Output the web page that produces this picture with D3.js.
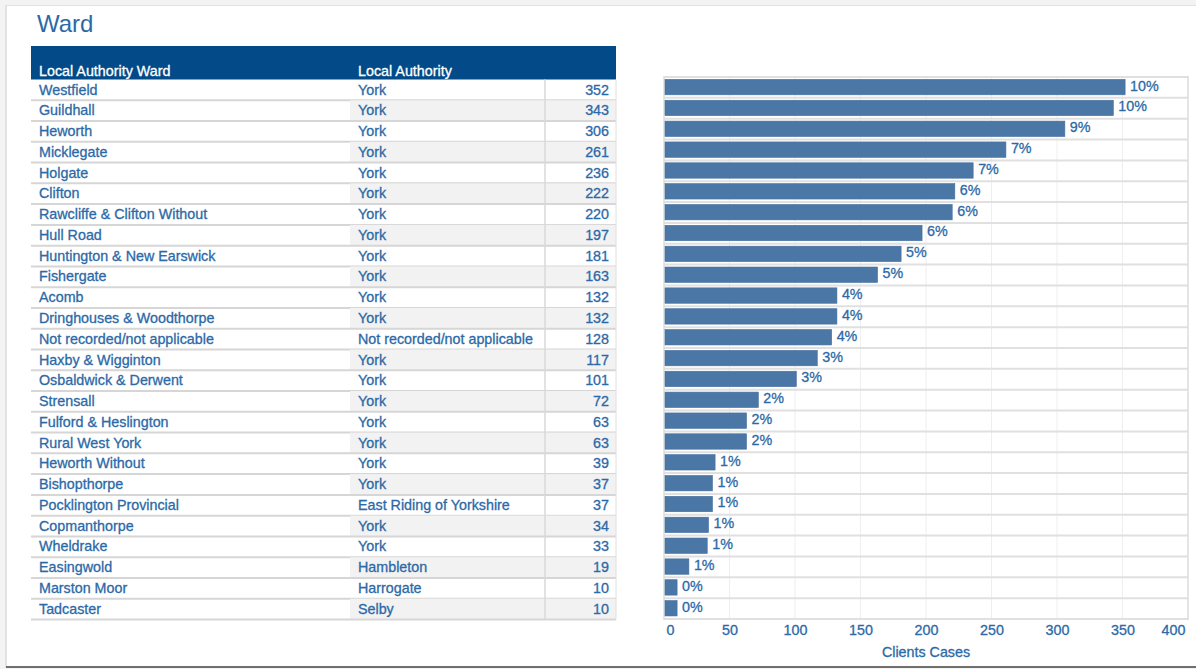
<!DOCTYPE html>
<meta charset="utf-8">
<script src="https://d3js.org/d3.v7.min.js"></script>
<style>
  body { margin: 0; background: #f4f4f4; }
  text { font-family: "Liberation Sans", Arial, sans-serif; }
  .t { stroke-width: 0.3px; }
</style>
<div id="viz"></div>
<script>

// data
const wards = ["Westfield", "Guildhall", "Heworth", "Micklegate", "Holgate", "Clifton",
  "Rawcliffe & Clifton Without", "Hull Road", "Huntington & New Earswick", "Fishergate",
  "Acomb", "Dringhouses & Woodthorpe", "Not recorded/not applicable", "Haxby & Wigginton",
  "Osbaldwick & Derwent", "Strensall", "Fulford & Heslington", "Rural West York",
  "Heworth Without", "Bishopthorpe", "Pocklington Provincial", "Copmanthorpe", "Wheldrake",
  "Easingwold", "Marston Moor", "Tadcaster"];
const authorities = ["York", "York", "York", "York", "York", "York", "York", "York", "York",
  "York", "York", "York", "Not recorded/not applicable", "York", "York", "York", "York",
  "York", "York", "York", "East Riding of Yorkshire", "York", "York", "Hambleton",
  "Harrogate", "Selby"];
const cases = [352, 343, 306, 261, 236, 222, 220, 197, 181, 163, 132, 132, 128, 117, 101,
  72, 63, 63, 39, 37, 37, 34, 33, 19, 10, 10];
const pctLabels = ["10%", "10%", "9%", "7%", "7%", "6%", "6%", "6%", "5%", "5%", "4%", "4%",
  "4%", "3%", "3%", "2%", "2%", "2%", "1%", "1%", "1%", "1%", "1%", "1%", "0%", "0%"];
const xTicks = [0, 50, 100, 150, 200, 250, 300, 350, 400];

const rows = wards.map((w, i) => ({ward: w, auth: authorities[i], value: cases[i], pct: pctLabels[i]}));

const W = 1196, H = 669;
const blue = "#2c69a7";
const fs = 14.3;

const svg = d3.select("#viz").append("svg")
  .attr("width", W).attr("height", H);

// helper for the slightly heavy text of the original
function label(sel, color) {
  return sel.attr("class", "t").attr("font-size", fs)
    .attr("fill", color).attr("stroke", color);
}

// page frame
svg.append("rect").attr("x", 0).attr("y", 0).attr("width", W).attr("height", H).attr("fill", "#f3f3f3");
svg.append("rect").attr("x", 5).attr("y", 5).attr("width", W).attr("height", 663).attr("fill", "#e2e2e2");
svg.append("rect").attr("x", 7).attr("y", 6).attr("width", W).attr("height", 660).attr("fill", "#fff");
svg.append("line").attr("x1", 6).attr("x2", W).attr("y1", 667).attr("y2", 667)
  .attr("stroke", "#6f6f6f").attr("stroke-width", 2);

// title
svg.append("text").attr("x", 37).attr("y", 32)
  .attr("font-size", 24).attr("fill", blue).text("Ward");

// ---------- table ----------
const tbl = {left: 31, right: 616, authX: 350, valX: 545};
const rowY = d3.scaleBand().domain(wards).range([79.5, 619.5]);

svg.append("rect").attr("x", tbl.left).attr("y", 46)
  .attr("width", tbl.right - tbl.left).attr("height", 33.5).attr("fill", "#024b88");
label(svg.append("text"), "#fff").attr("x", 39).attr("y", 76).text("Local Authority Ward");
label(svg.append("text"), "#fff").attr("x", 358).attr("y", 76).text("Local Authority");

const tr = svg.append("g").selectAll("g").data(rows).join("g")
  .attr("transform", d => `translate(0,${rowY(d.ward)})`);

tr.filter((d, i) => i % 2 === 1).append("rect")
  .attr("x", tbl.authX).attr("y", 0)
  .attr("width", tbl.right - tbl.authX).attr("height", rowY.bandwidth())
  .attr("fill", "#f2f2f2");

tr.append("line")
  .attr("x1", tbl.left).attr("x2", tbl.right)
  .attr("y1", rowY.bandwidth()).attr("y2", rowY.bandwidth())
  .attr("stroke", "#d6d6d6").attr("stroke-width", 2);

label(tr.append("text"), blue).attr("x", 39).attr("y", 15).text(d => d.ward);
label(tr.append("text"), blue).attr("x", 358).attr("y", 15).text(d => d.auth);
label(tr.append("text"), blue).attr("x", 609).attr("y", 15)
  .attr("text-anchor", "end").text(d => d.value);

svg.append("line").attr("x1", tbl.valX).attr("x2", tbl.valX).attr("y1", 79.5).attr("y2", 619.5)
  .attr("stroke", "#d9d9d9").attr("stroke-width", 1.5);
svg.append("line").attr("x1", tbl.right).attr("x2", tbl.right).attr("y1", 79.5).attr("y2", 619.5)
  .attr("stroke", "#e0e0e0").attr("stroke-width", 1);

// ---------- bar chart ----------
const x = d3.scaleLinear().domain([0, 400]).range([664, 1188]);
const y = d3.scaleBand().domain(wards).range([77, 619]);

const chart = svg.append("g");

// vertical gridlines
chart.selectAll(".grid").data(xTicks.slice(1, -1)).join("line")
  .attr("x1", d => x(d)).attr("x2", d => x(d))
  .attr("y1", 77).attr("y2", 619)
  .attr("stroke", "#efefef").attr("stroke-width", 1);

// row separators
chart.selectAll(".sep").data([null].concat(wards)).join("line")
  .attr("x1", x(0)).attr("x2", x(400))
  .attr("y1", d => d === null ? 77 : y(d) + y.bandwidth())
  .attr("y2", d => d === null ? 77 : y(d) + y.bandwidth())
  .attr("stroke", "#e0e0e0").attr("stroke-width", 2);

chart.append("line").attr("x1", x(0)).attr("x2", x(0)).attr("y1", 76).attr("y2", 620)
  .attr("stroke", "#dcdcdc").attr("stroke-width", 1.5);
chart.append("line").attr("x1", x(400)).attr("x2", x(400)).attr("y1", 76).attr("y2", 620)
  .attr("stroke", "#dcdcdc").attr("stroke-width", 1.5);

// bars
chart.selectAll(".bar").data(rows).join("rect")
  .attr("x", x(0) + 1)
  .attr("y", d => y(d.ward) + 2.4)
  .attr("width", d => x(d.value) - x(0) - 1)
  .attr("height", 15.4)
  .attr("fill", "#4b77a6")
  .attr("stroke", "#44709f").attr("stroke-width", 0.6);

// value labels
label(chart.selectAll(".lbl").data(rows).join("text"), blue)
  .attr("x", d => x(d.value) + 5)
  .attr("y", d => y(d.ward) + 13.5)
  .text(d => d.pct);

// x axis
const axis = svg.append("g").attr("transform", "translate(0,620)")
  .call(d3.axisBottom(x).tickValues(xTicks).tickSize(0).tickPadding(5));
axis.select(".domain").remove();
axis.selectAll("text")
  .attr("class", "t").attr("font-size", fs).attr("fill", blue).attr("stroke", blue)
  .style("font-family", "Liberation Sans, Arial, sans-serif")
  .attr("dx", d => d === 0 ? 6 : (d === 400 ? -15 : 0));

label(svg.append("text"), blue).attr("x", 926).attr("y", 657)
  .attr("text-anchor", "middle").text("Clients Cases");

</script>
